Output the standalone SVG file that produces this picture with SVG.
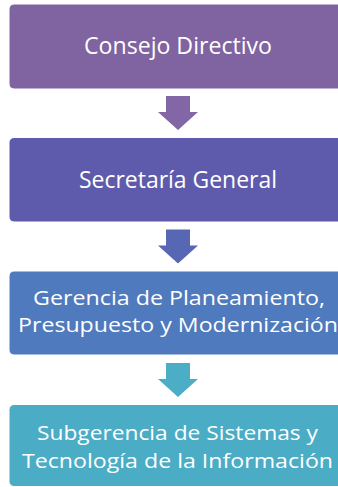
<svg xmlns="http://www.w3.org/2000/svg" width="338" height="487" viewBox="0 0 338 487">
  <style>
    .box { stroke: #ffffff; stroke-width: 1; }
    .lbl { fill: #ffffff; font-family: "Open Sans", "Noto Sans", "Liberation Sans", sans-serif; text-anchor: middle; }
    .big { font-size: 23px; }
    .small { font-size: 20px; }
  </style>
  <rect width="338" height="487" fill="#ffffff"/>
  <g id="connectors">
    <path d="M166,96 H190 V112 H198 L178,130 L158,112 H166 Z" fill="#8366A5"/>
    <path d="M166,229.5 H190 V245.5 H198 L178,263.5 L158,245.5 H166 Z" fill="#5867B4"/>
    <path d="M166,363 H190 V379 H198 L178,397 L158,379 H166 Z" fill="#4BADC6"/>
  </g>
  <g id="consejo-directivo">
    <rect class="box" x="9" y="4" width="338" height="85" rx="5" fill="#8064A2"/>
    <text class="lbl big" x="178" y="53.5" textLength="188" lengthAdjust="spacingAndGlyphs">Consejo Directivo</text>
  </g>
  <g id="secretaria-general">
    <rect class="box" x="9" y="137.5" width="338" height="84.5" rx="5" fill="#5F5BAC"/>
    <text class="lbl big" x="178" y="188.3" textLength="198" lengthAdjust="spacingAndGlyphs">Secretaría General</text>
  </g>
  <g id="gerencia-planeamiento">
    <rect class="box" x="9" y="271" width="338" height="84" rx="5" fill="#4F7ABD"/>
    <text class="lbl small" x="179" y="304.5" textLength="292" lengthAdjust="spacingAndGlyphs">Gerencia de Planeamiento,</text>
    <text class="lbl small" x="178" y="332" textLength="320" lengthAdjust="spacingAndGlyphs">Presupuesto y Modernización</text>
  </g>
  <g id="subgerencia-sistemas">
    <rect class="box" x="9" y="404.5" width="338" height="82" rx="5" fill="#4BACC6"/>
    <text class="lbl small" x="177.5" y="440" textLength="281" lengthAdjust="spacingAndGlyphs">Subgerencia de Sistemas y</text>
    <text class="lbl small" x="177.5" y="468" textLength="311" lengthAdjust="spacingAndGlyphs">Tecnología de la Información</text>
  </g>
</svg>
